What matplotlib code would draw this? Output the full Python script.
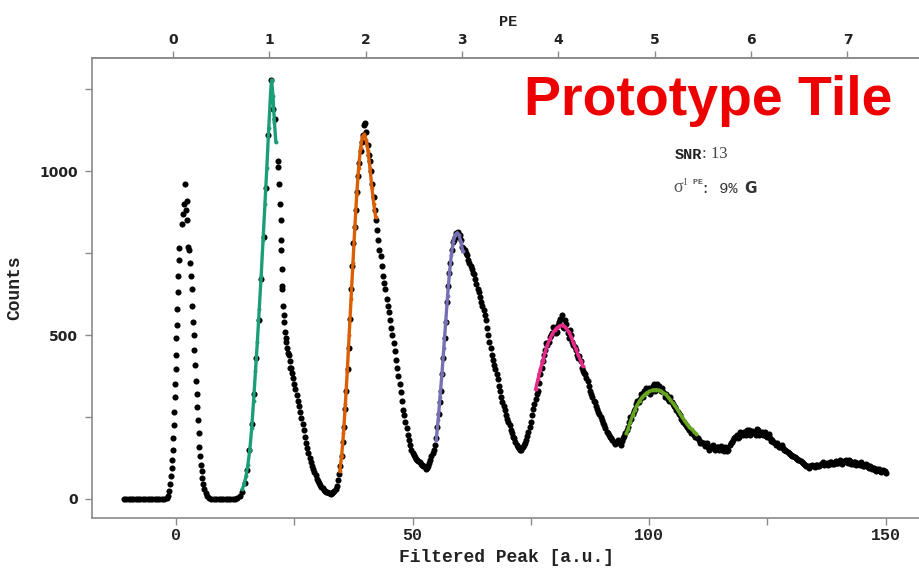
"""
Prototype tile: filtered-peak spectrum with per-PE Gaussian fits.
"""
import matplotlib
matplotlib.use("Agg")
import matplotlib.pyplot as plt
import numpy as np
from matplotlib.ticker import FixedLocator

# ---- data -----------------------------------------------------------------
BASE_X = [-11.0, -10.5, -10.0, -9.5, -9.0, -8.5, -8.0, -7.5, -7.0, -6.5,
          -6.0, -5.5, -5.0, -4.5, -4.0, -3.5, -3.0, -2.5]
BASE_Y = [0] * len(BASE_X)

# pedestal (0 PE) sampled finer because it is so narrow
PED_X = [-2.0, -1.7, -1.5, -1.3, -1.1,
         -0.9, -0.8, -0.7, -0.6, -0.5, -0.4, -0.3, -0.2, -0.1, 0.0, 0.1,
         0.2, 0.3, 0.4, 0.5, 0.6, 0.7,
         1.3, 1.5, 1.7, 1.9, 2.1, 2.3, 2.4,
         2.6, 2.8, 3.0, 3.15, 3.3, 3.45, 3.6, 3.75, 3.9, 4.05, 4.2, 4.35,
         4.5, 4.65, 4.8, 4.95, 5.1, 5.25,
         5.4, 5.6, 5.8, 6.0, 6.3, 6.6, 7.0]
PED_Y = [2, 10, 25, 45, 70,
         95, 120, 150, 185, 225, 265, 310, 350, 395, 440, 490,
         530, 580, 630, 680, 730, 765,
         840, 870, 900, 960, 880, 910, 850,
         770, 760, 720, 680, 640, 590, 540, 500, 455, 410, 360, 320,
         280, 240, 200, 160, 130, 105,
         85, 65, 45, 30, 18, 10, 4]

# main spectrum, bins every 0.5 from 7.5 to 150
MAIN_X = np.arange(7.5, 150.01, 0.5)
MAIN_Y = [
    0, 0, 0, 0, 0, 0, 0, 0, 0,
    0, 1, 3, 9, 22, 48, 88, 150, 230, 320,
    430, 545, 670, 800, 950, 1110, 1278, 1190, 1160, 1030,
    900, 640, 510, 460, 420, 385, 350, 317, 285, 248,
    210, 172, 140, 112, 92, 72, 55, 42, 32, 25,
    20, 17, 18, 24, 40, 75, 130, 220, 330, 460,
    640, 780, 880, 985, 1060, 1110, 1146, 1080, 1030, 960,
    880, 820, 760, 710, 660, 610, 570, 520, 475, 425,
    375, 325, 272, 235, 195, 165, 140, 128, 120, 112,
    105, 100, 95, 110, 130, 150, 185, 260, 330, 430,
    540, 650, 720, 785, 800, 815, 805, 770, 760, 745,
    720, 700, 685, 655, 630, 600, 575, 545, 500, 460,
    425, 395, 365, 330, 295, 270, 245, 225, 200, 185,
    165, 155, 150, 165, 180, 205, 235, 275, 305, 330,
    380, 420, 455, 470, 495, 505, 520, 510, 540, 560,
    520, 535, 490, 500, 470, 455, 430, 420, 390, 380,
    360, 330, 310, 295, 275, 260, 240, 225, 205, 195,
    185, 175, 170, 180, 165, 185, 200, 220, 250, 260,
    275, 300, 305, 315, 330, 325, 340, 330, 350, 335,
    345, 330, 325, 320, 305, 310, 290, 280, 265, 255,
    240, 230, 220, 210, 205, 195, 190, 180, 175, 170,
    165, 160, 155, 165, 150, 160, 155, 150, 160, 145,
    165, 175, 185, 195, 190, 200, 205, 195, 210, 200,
    205, 195, 210, 200, 195, 205, 190, 185, 180, 170,
    170, 160, 165, 150, 145, 140, 135, 130, 125, 120,
    115, 110, 105, 100, 100, 105, 98, 105, 102, 108,
    104, 110, 106, 112, 108, 115, 110, 116, 112, 118,
    110, 115, 108, 112, 110, 105, 108, 100, 104, 96,
    92, 95, 85, 90, 82, 88, 80,
]

# the in-between bins (x.25 / x.75) from 22.25 on
MID_X = np.arange(22.25, 149.76, 0.5)
MID_Y = [
    760, 560, 490, 445, 400, 370, 335, 300, 265, 230,
    190, 155, 125, 100, 82, 62, 48, 37, 28, 22,
    18, 16, 21, 30, 58, 100, 175, 275, 395, 550,
    710, 830, 935, 1025, 1090, 1140, 1120, 1050, 1000, 920,
    850, 790, 740, 680, 640, 590, 545, 500, 450, 400,
    350, 300, 255, 215, 180, 150, 135, 122, 116, 108,
    102, 92, 100, 120, 140, 165, 220, 295, 380, 490,
    600, 690, 760, 790, 810, 800, 790, 765, 750, 730,
    710, 690, 670, 640, 615, 590, 560, 520, 480, 440,
    410, 380, 345, 310, 285, 255, 235, 210, 190, 175,
    160, 148, 158, 172, 192, 220, 255, 290, 320, 355,
    400, 440, 475, 480, 500, 525, 505, 530, 550, 525,
    545, 505, 515, 480, 465, 440, 435, 400, 385, 370,
    345, 320, 300, 285, 265, 250, 232, 215, 200, 190,
    180, 168, 175, 172, 178, 192, 210, 235, 245, 268,
    290, 295, 320, 310, 340, 335, 320, 345, 330, 350,
    335, 340, 310, 315, 300, 295, 285, 270, 260, 245,
    235, 225, 215, 200, 200, 188, 185, 172, 172, 162,
    170, 150, 162, 155, 160, 148, 162, 145, 155, 150,
    170, 180, 190, 185, 205, 195, 200, 210, 195, 208,
    200, 212, 195, 205, 200, 192, 198, 178, 175, 165,
    165, 158, 155, 148, 142, 138, 130, 128, 122, 118,
    112, 108, 102, 96, 102, 100, 104, 100, 106, 112,
    108, 104, 112, 108, 114, 110, 118, 108, 115, 112,
    118, 106, 114, 104, 108, 112, 102, 106, 98, 100,
    96, 88, 92, 86, 84, 86,
]

# extra samples on the steep fall of the 1 PE peak
DROP_X = [21.6, 21.8, 22.1, 22.2, 22.3, 22.4, 22.6, 22.8, 23.2, 23.8, 24.2]
DROP_Y = [1013, 960, 850, 790, 700, 650, 590, 540, 480, 440, 400]

# Gaussian fits per PE peak
FIT1_X = [14.0, 14.4, 14.8, 15.2, 15.6, 16.0, 16.4, 16.8, 17.2, 17.6, 18.0,
          18.4, 18.8, 19.2, 19.6, 20.0, 20.2, 20.5, 20.8, 21.1]
FIT1_Y = [30, 45, 70, 105, 150, 215, 300, 390, 480, 580, 680,
          790, 900, 1010, 1130, 1240, 1278, 1230, 1150, 1090]
FIT2_X = [34.6, 35.0, 35.4, 35.8, 36.2, 36.6, 37.0, 37.4, 37.8, 38.2, 38.6,
          39.0, 39.4, 39.8, 40.2, 40.6, 41.0, 41.4, 41.8, 42.2]
FIT2_Y = [85, 130, 200, 290, 390, 500, 610, 720, 830, 930, 1010,
          1070, 1105, 1112, 1095, 1060, 1010, 950, 900, 860]
FIT3_X = [55.0, 55.4, 55.8, 56.2, 56.6, 57.0, 57.4, 57.8, 58.2, 58.6, 59.0,
          59.4, 59.8, 60.2, 60.6]
FIT3_Y = [180, 240, 310, 380, 460, 540, 620, 690, 745, 785, 805,
          812, 805, 785, 755]
FIT4_X = [76.0, 76.5, 77.0, 77.5, 78.0, 78.5, 79.0, 79.5, 80.0, 80.5, 81.0,
          81.5, 82.0, 82.5, 83.0, 83.5, 84.0, 84.5, 85.0, 85.5, 86.0]
FIT4_Y = [335, 365, 395, 420, 448, 470, 488, 502, 514, 522, 527,
          530, 527, 520, 510, 495, 475, 458, 440, 422, 405]
FIT5_X = [95.2, 95.5, 96.0, 96.5, 97.0, 97.5, 98.0, 98.5, 99.0, 99.5, 100.0,
          100.5, 101.0, 101.5, 102.0, 102.5, 103.0, 103.5, 104.0, 104.5,
          105.0, 105.5, 106.0, 106.5, 107.0, 107.5, 108.0, 108.5, 109.0,
          109.5, 110.0]
FIT5_Y = [200, 212, 235, 255, 272, 288, 300, 310, 318, 324, 328,
          331, 333, 333, 332, 329, 324, 319, 310, 302,
          292, 283, 272, 260, 249, 238, 228, 220, 212,
          205, 198]

FITS = [(FIT1_X, FIT1_Y, "#1b9e77"), (FIT2_X, FIT2_Y, "#d95f02"),
        (FIT3_X, FIT3_Y, "#7570b3"), (FIT4_X, FIT4_Y, "#e7298a"),
        (FIT5_X, FIT5_Y, "#66a61e")]

PE_TICKS = [0, 1, 2, 3, 4, 5, 6, 7]
PE_GAIN = 20.36     # filtered-peak units per PE
PE_OFFSET = -0.6    # position of 0 PE


def x_to_pe(x):
    return (np.asarray(x) - PE_OFFSET) / PE_GAIN


def pe_to_x(pe):
    return np.asarray(pe) * PE_GAIN + PE_OFFSET


# ---- figure ----------------------------------------------------------------
W, H = 919, 568
fig = plt.figure(figsize=(W / 100, H / 100), dpi=100)
fig.patch.set_facecolor("white")
ax = fig.add_axes([92 / W, 50 / H, (925 - 92) / W, 460 / H])

mono = "Liberation Mono"
spine_c = "#8a8a8a"
txt_c = "#222222"

dot = dict(ls="none", marker="o", ms=4.4, color="black", mew=0)
ax.plot(BASE_X, BASE_Y, **dot)
ax.plot(PED_X, PED_Y, **dot)
ax.plot(MAIN_X, MAIN_Y, **dot)
ax.plot(MID_X, MID_Y, **dot)
ax.plot(DROP_X, DROP_Y, **dot)

for fx, fy, c in FITS:
    ax.plot(fx, fy, color=c, lw=2.4, marker="o", ms=2.8, mew=0, zorder=3)

ax.set_xlim(-17.75, 158.3)
ax.set_ylim(-58, 1345)

ax.xaxis.set_major_locator(FixedLocator([0, 50, 100, 150]))
ax.xaxis.set_minor_locator(FixedLocator([25, 75, 125]))
ax.yaxis.set_major_locator(FixedLocator([0, 500, 1000]))
ax.yaxis.set_minor_locator(FixedLocator([250, 750, 1250]))

for s in ["left", "bottom", "top"]:
    ax.spines[s].set_color(spine_c)
    ax.spines[s].set_linewidth(1.2)
ax.spines["right"].set_visible(False)

ax.tick_params(which="both", direction="out", length=5, width=1.0,
               color=spine_c, labelcolor=txt_c)
ax.tick_params(axis="x", labelsize=12, pad=2)
ax.tick_params(axis="y", labelsize=10, pad=5)
for lab in ax.get_xticklabels():
    lab.set_family(mono)
    lab.set_weight("bold")
for lab in ax.get_yticklabels():
    lab.set_weight("bold")

ax.set_xlabel("Filtered Peak [a.u.]", family=mono, weight="bold",
              fontsize=13, color=txt_c)
ax.xaxis.set_label_coords((506 - 92) / (925 - 92), -(549 - 518) / 460)
ax.set_ylabel("Counts", family=mono, weight="bold", fontsize=13,
              color=txt_c)
ax.yaxis.set_label_coords(-(92 - 23) / (925 - 92), 0.5)

top = ax.secondary_xaxis("top", functions=(x_to_pe, pe_to_x))
top.xaxis.set_major_locator(FixedLocator(PE_TICKS))
top.tick_params(direction="out", length=5, width=1.0, color=spine_c,
                labelcolor=txt_c, labelsize=10, pad=3)
for lab in top.get_xticklabels():
    lab.set_weight("bold")
top.spines["top"].set_color(spine_c)
top.spines["top"].set_linewidth(1.2)
top.set_xlabel("PE", family=mono, weight="bold", fontsize=11,
               color=txt_c, labelpad=5)

# ---- annotations -----------------------------------------------------------
fig.text(892 / W, 1 - 115 / H, "Prototype Tile", ha="right",
         va="baseline", color="#ee0000", fontsize=40, weight="bold",
         family="Liberation Sans")

t1 = fig.text(675 / W, 1 - 159 / H, "SNR", family=mono, weight="bold",
              fontsize=11, color=txt_c, va="baseline")
ax.annotate(": 13", xy=(1, 0), xycoords=t1, va="bottom",
            family="Liberation Serif", fontsize=12, color="#444444")

t2 = fig.text(673 / W, 1 - 192 / H, "σ", family="Liberation Serif",
              fontsize=13, color="#555555", va="baseline")
t3 = ax.annotate("1", xy=(1, 0.55), xycoords=t2, va="bottom",
                 family="Liberation Serif", fontsize=7, color="#555555")
t4 = ax.annotate(" PE", xy=(1, 0.05), xycoords=t3, va="bottom",
                 family=mono, weight="bold", fontsize=6, color="#555555")
t5 = ax.annotate(": 9%", xy=(1, 0), xycoords=t2, xytext=(13, 0),
                 textcoords="offset points", va="bottom", family=mono,
                 fontsize=11, color="#333333")
ax.annotate("G", xy=(1, 0), xycoords=t5, xytext=(5, 0),
            textcoords="offset points", va="bottom", weight="bold",
            fontsize=11, color="#333333")

fig.savefig("out.png", dpi=100, facecolor="white")
